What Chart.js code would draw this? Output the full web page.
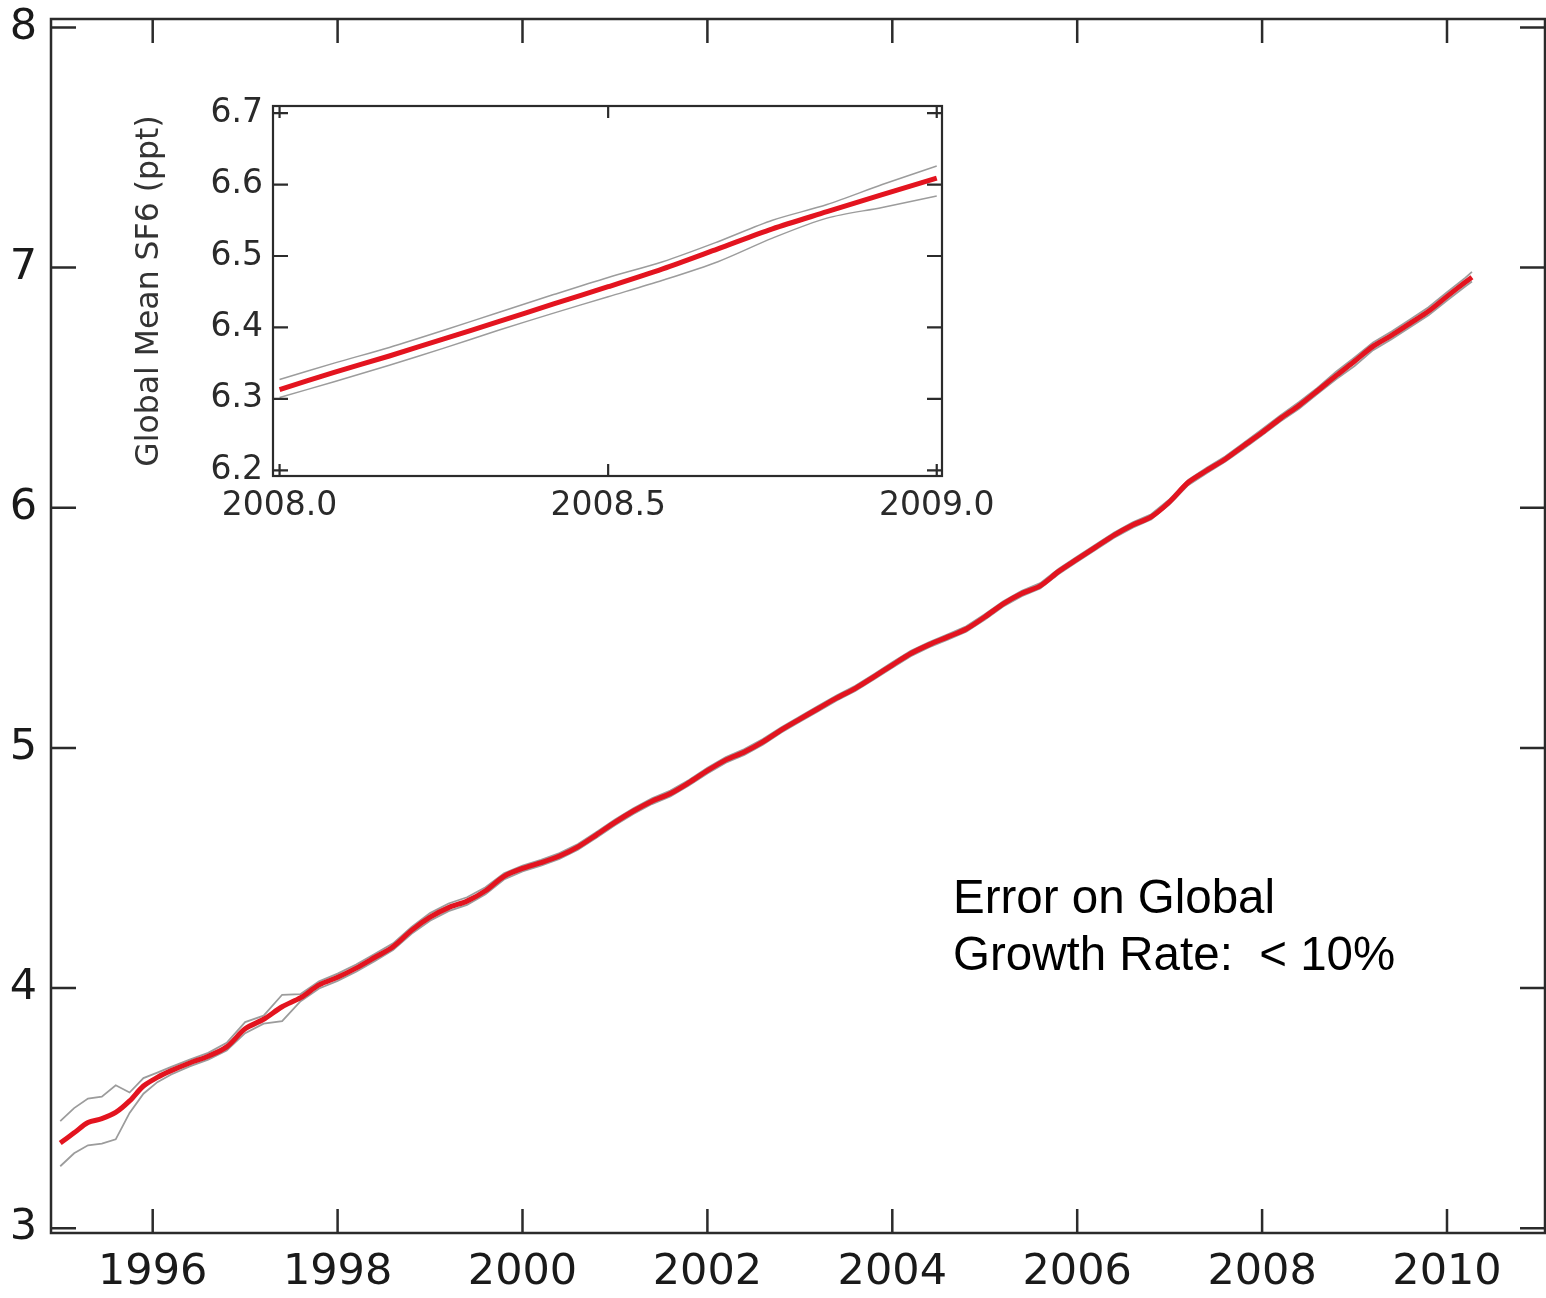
<!DOCTYPE html>
<html>
<head>
<meta charset="utf-8">
<script src="https://cdn.jsdelivr.net/npm/chart.js@4.4.1/dist/chart.umd.min.js"></script>
<style>
  body { margin: 0; background: #fff; }
  #wrap { position: relative; width: 1546px; height: 1298px; }
  #main { position: absolute; left: 0; top: 0; }
  #inset { position: absolute; left: 100px; top: 90px; }
  #note {
    position: absolute; left: 953px; top: 868px;
    font-family: "Liberation Sans", Arial, sans-serif;
    font-size: 47.5px; line-height: 57px; color: #000; white-space: pre;
  }
</style>
</head>
<body>
<div id="wrap">
  <canvas id="main" width="1546" height="1298"></canvas>
  <canvas id="inset" width="920" height="440"></canvas>
  <div id="note">Error on Global
Growth Rate:  &lt; 10%</div>
</div>
<script>
// main panel: global mean SF6 (ppt), 1995-2010
const years = [
  1995.00, 1995.15, 1995.30, 1995.45, 1995.60, 1995.75, 1995.90, 1996.05, 1996.20, 1996.40,
  1996.60, 1996.80, 1997.00, 1997.20, 1997.40, 1997.60, 1997.80, 1998.00, 1998.20, 1998.40,
  1998.60, 1998.80, 1999.00, 1999.20, 1999.40, 1999.60, 1999.80, 2000.00, 2000.20, 2000.40,
  2000.60, 2000.80, 2001.00, 2001.20, 2001.40, 2001.60, 2001.80, 2002.00, 2002.20, 2002.40,
  2002.60, 2002.80, 2003.00, 2003.20, 2003.40, 2003.60, 2003.80, 2004.00, 2004.20, 2004.40,
  2004.60, 2004.80, 2005.00, 2005.20, 2005.40, 2005.60, 2005.80, 2006.00, 2006.20, 2006.40,
  2006.60, 2006.80, 2007.00, 2007.20, 2007.40, 2007.60, 2007.80, 2008.00, 2008.20, 2008.40,
  2008.60, 2008.80, 2009.00, 2009.20, 2009.40, 2009.60, 2009.80, 2010.00, 2010.20, 2010.27
];
const sf6Mean = [
  3.355, 3.397, 3.440, 3.456, 3.482, 3.530, 3.592, 3.628, 3.656, 3.688,
  3.716, 3.755, 3.830, 3.870, 3.922, 3.960, 4.013, 4.045, 4.083, 4.127,
  4.172, 4.240, 4.295, 4.335, 4.362, 4.405, 4.465, 4.498, 4.522, 4.550,
  4.588, 4.638, 4.690, 4.737, 4.778, 4.810, 4.855, 4.905, 4.950, 4.983,
  5.025, 5.075, 5.120, 5.164, 5.208, 5.248, 5.296, 5.345, 5.393, 5.430,
  5.462, 5.495, 5.545, 5.600, 5.643, 5.675, 5.735, 5.786, 5.836, 5.886,
  5.928, 5.962, 6.025, 6.105, 6.155, 6.202, 6.258, 6.313, 6.372, 6.426,
  6.487, 6.550, 6.610, 6.672, 6.718, 6.768, 6.818, 6.880, 6.940, 6.960
];
const sf6Upper = [
  3.446, 3.500, 3.540, 3.548, 3.595, 3.565, 3.625, 3.648, 3.672, 3.702,
  3.730, 3.772, 3.858, 3.885, 3.972, 3.975, 4.028, 4.060, 4.098, 4.142,
  4.186, 4.254, 4.312, 4.352, 4.378, 4.420, 4.478, 4.510, 4.534, 4.562,
  4.600, 4.650, 4.702, 4.749, 4.790, 4.822, 4.866, 4.917, 4.962, 4.995,
  5.037, 5.086, 5.131, 5.175, 5.219, 5.259, 5.307, 5.356, 5.404, 5.441,
  5.473, 5.506, 5.556, 5.611, 5.654, 5.686, 5.746, 5.797, 5.847, 5.897,
  5.939, 5.973, 6.036, 6.116, 6.166, 6.213, 6.270, 6.327, 6.385, 6.440,
  6.500, 6.566, 6.626, 6.688, 6.734, 6.784, 6.835, 6.897, 6.958, 6.982
];
const sf6Lower = [
  3.258, 3.312, 3.345, 3.352, 3.370, 3.480, 3.560, 3.608, 3.640, 3.674,
  3.702, 3.740, 3.812, 3.852, 3.862, 3.945, 3.998, 4.030, 4.068, 4.112,
  4.158, 4.226, 4.280, 4.320, 4.346, 4.390, 4.452, 4.486, 4.510, 4.538,
  4.576, 4.626, 4.678, 4.725, 4.766, 4.798, 4.843, 4.893, 4.938, 4.971,
  5.013, 5.064, 5.109, 5.153, 5.197, 5.237, 5.285, 5.334, 5.382, 5.419,
  5.451, 5.484, 5.534, 5.589, 5.632, 5.664, 5.724, 5.775, 5.825, 5.875,
  5.917, 5.951, 6.014, 6.094, 6.144, 6.191, 6.246, 6.302, 6.360, 6.412,
  6.474, 6.535, 6.590, 6.656, 6.702, 6.752, 6.801, 6.863, 6.922, 6.942
];
const xTicks = [1996, 1998, 2000, 2002, 2004, 2006, 2008, 2010];
const yTicks = [3, 4, 5, 6, 7, 8];

// inset: zoom on 2008
const insetYears = [
  2008.000, 2008.083, 2008.167, 2008.250, 2008.333, 2008.417, 2008.500,
  2008.583, 2008.667, 2008.750, 2008.833, 2008.917, 2009.000
];
const insetMean = [6.313, 6.337, 6.360, 6.384, 6.408, 6.433, 6.457, 6.482, 6.510, 6.538, 6.562, 6.586, 6.609];
const insetUpper = [6.327, 6.350, 6.372, 6.396, 6.421, 6.446, 6.470, 6.492, 6.520, 6.550, 6.572, 6.600, 6.626];
const insetLower = [6.302, 6.324, 6.347, 6.371, 6.396, 6.420, 6.443, 6.466, 6.492, 6.525, 6.553, 6.568, 6.584];
const insetXTicks = [2008.0, 2008.5, 2009.0];
const insetYTicks = [6.2, 6.3, 6.4, 6.5, 6.6, 6.7];

const pts = (xs, ys) => xs.map((x, i) => ({ x: x, y: ys[i] }));

// box around the plot with inward ticks on all four sides
const framePlugin = {
  id: "frame",
  afterDraw(chart, args, opts) {
    const { ctx, chartArea: a, scales: { x, y } } = chart;
    ctx.save();
    ctx.strokeStyle = opts.color;
    ctx.lineWidth = opts.width;
    ctx.strokeRect(a.left, a.top, a.right - a.left, a.bottom - a.top);
    ctx.beginPath();
    opts.xTicks.forEach(v => {
      const px = x.getPixelForValue(v);
      ctx.moveTo(px, a.bottom); ctx.lineTo(px, a.bottom - opts.xLen);
      ctx.moveTo(px, a.top); ctx.lineTo(px, a.top + opts.xLen);
    });
    opts.yTicks.forEach(v => {
      const py = y.getPixelForValue(v);
      ctx.moveTo(a.left, py); ctx.lineTo(a.left + opts.yLen, py);
      ctx.moveTo(a.right, py); ctx.lineTo(a.right - opts.yLen, py);
    });
    ctx.stroke();
    ctx.restore();
  }
};

const red = "#e3141f";
const grey = "#9c9c9c";
const font = "'DejaVu Sans', Verdana, sans-serif";
// invisible grid, only used to push the tick labels away from the axis
const gap = len => ({ display: true, color: "rgba(0,0,0,0)", drawOnChartArea: false, drawTicks: true, tickLength: len });

new Chart(document.getElementById("main"), {
  type: "line",
  data: {
    datasets: [
      { data: pts(years, sf6Mean), borderColor: red, borderWidth: 5, tension: 0.3 },
      { data: pts(years, sf6Upper), borderColor: grey, borderWidth: 1.8, tension: 0 },
      { data: pts(years, sf6Lower), borderColor: grey, borderWidth: 1.8, tension: 0 }
    ]
  },
  options: {
    responsive: false,
    animation: false,
    elements: { point: { radius: 0 } },
    layout: { padding: { top: 19, right: 1, left: 0, bottom: 0 } },
    plugins: {
      legend: { display: false },
      tooltip: { enabled: false },
      frame: { color: "#2b2b2b", width: 2.5, xTicks: xTicks, yTicks: yTicks, xLen: 24, yLen: 25 }
    },
    scales: {
      x: {
        type: "linear",
        min: 1994.9,
        max: 2011.06,
        afterBuildTicks: s => { s.ticks = xTicks.map(v => ({ value: v })); },
        afterFit: s => { s.height = 65; },
        grid: gap(14),
        border: { display: false },
        ticks: { color: "#1a1a1a", padding: 0, maxRotation: 0, font: { family: font, size: 43 }, callback: v => String(v) }
      },
      y: {
        min: 2.98,
        max: 8.035,
        afterBuildTicks: s => { s.ticks = yTicks.map(v => ({ value: v })); },
        afterFit: s => { s.width = 51; },
        grid: gap(14),
        border: { display: false },
        ticks: { color: "#1a1a1a", padding: 0, font: { family: font, size: 43, lineHeight: 0.8 }, callback: v => String(v) }
      }
    }
  },
  plugins: [framePlugin]
});

new Chart(document.getElementById("inset"), {
  type: "line",
  data: {
    datasets: [
      { data: pts(insetYears, insetMean), borderColor: red, borderWidth: 5, tension: 0.3 },
      { data: pts(insetYears, insetUpper), borderColor: grey, borderWidth: 1.5, tension: 0.3 },
      { data: pts(insetYears, insetLower), borderColor: grey, borderWidth: 1.5, tension: 0.3 }
    ]
  },
  options: {
    responsive: false,
    animation: false,
    elements: { point: { radius: 0 } },
    layout: { padding: { top: 16, right: 78, left: 0, bottom: 0 } },
    plugins: {
      legend: { display: false },
      tooltip: { enabled: false },
      frame: { color: "#2b2b2b", width: 2.2, xTicks: insetXTicks, yTicks: insetYTicks, xLen: 12, yLen: 15 }
    },
    scales: {
      x: {
        type: "linear",
        min: 2007.99,
        max: 2009.008,
        afterBuildTicks: s => { s.ticks = insetXTicks.map(v => ({ value: v })); },
        afterFit: s => { s.height = 54; },
        grid: gap(11),
        border: { display: false },
        ticks: { color: "#2a2a2a", padding: 0, maxRotation: 0, font: { family: font, size: 33 }, callback: v => v.toFixed(1) }
      },
      y: {
        min: 6.192,
        max: 6.71,
        afterBuildTicks: s => { s.ticks = insetYTicks.map(v => ({ value: v })); },
        afterFit: s => { s.width = 173; },
        grid: gap(10),
        border: { display: false },
        title: { display: true, text: "Global Mean SF6 (ppt)", color: "#333", padding: { top: 31, bottom: 0 }, font: { family: font, size: 31.5 } },
        ticks: { color: "#2a2a2a", padding: 0, font: { family: font, size: 33, lineHeight: 0.9 }, callback: v => v.toFixed(1) }
      }
    }
  },
  plugins: [framePlugin]
});
</script>
</body>
</html>
